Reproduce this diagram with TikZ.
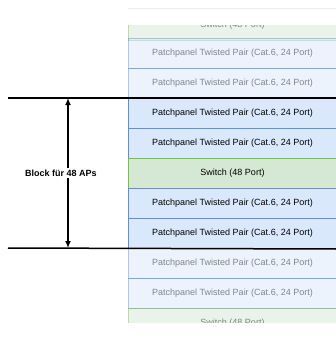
\documentclass[tikz,border=0pt]{standalone}
\usepackage{fontspec}
\setmainfont{Liberation Sans}
\usetikzlibrary{arrows.meta}

\definecolor{pnfill}{HTML}{DAE8FC}
\definecolor{pnline}{HTML}{6C8EBF}
\definecolor{swfill}{HTML}{D5E8D4}
\definecolor{swline}{HTML}{82B366}

\tikzset{
  rowbox/.style={draw, line width=1pt, minimum width=208pt, minimum height=30pt,
    inner sep=0pt, anchor=north west, font=\fontsize{9}{11}\selectfont},
  pnbox/.style={rowbox, fill=pnfill, draw=pnline},
  swbox/.style={rowbox, fill=swfill, draw=swline},
  faded/.style={fill opacity=0.5, draw opacity=0.5, text opacity=0.45},
}

\begin{document}
\begin{tikzpicture}[x=1pt, y=-1pt]
      \fill[white] (0,0) rectangle (336,338);
      \useasboundingbox (0,0) rectangle (336,338);

      % faded rows above and below the block
      \begin{scope}
        \clip (127,25) rectangle (340,322.5);
        \node[swbox, faded] (sw0) at (128,10) {Switch (48 Port)};
        \node[pnbox, faded] (pn1) at (128,38) {Patchpanel Twisted Pair (Cat.6, 24 Port)};
        \node[pnbox, faded] (pn2) at (128,68) {Patchpanel Twisted Pair (Cat.6, 24 Port)};
        \node[pnbox, faded] (pn8) at (128,248) {Patchpanel Twisted Pair (Cat.6, 24 Port)};
        \node[pnbox, faded] (pn9) at (128,278) {Patchpanel Twisted Pair (Cat.6, 24 Port)};
        \node[swbox, faded] (sw10) at (128,308) {Switch (48 Port)};
      \end{scope}
      \draw[black!7, line width=1pt] (128,8) -- (336,8);

      % the block
      \node[pnbox] (pn3) at (128,98) {Patchpanel Twisted Pair (Cat.6, 24 Port)};
      \node[pnbox] (pn4) at (128,128) {Patchpanel Twisted Pair (Cat.6, 24 Port)};
      \node[swbox] (sw5) at (128,158) {Switch (48 Port)};
      \node[pnbox] (pn6) at (128,188) {Patchpanel Twisted Pair (Cat.6, 24 Port)};
      \node[pnbox] (pn7) at (128,218) {Patchpanel Twisted Pair (Cat.6, 24 Port)};

      % block limits
      \coordinate (topL) at (8,98);
      \coordinate (botL) at (8,248);
      \draw[line width=1.5pt] (topL) -- (pn3.north east);
      \draw[line width=1.5pt] (botL) -- (pn7.south east);

      \coordinate (topA) at (68,98);
      \coordinate (botA) at (68,248);
      \draw[line width=1.3pt, {Latex[length=7pt, width=6pt]}-{Latex[length=7pt, width=6pt]}] (topA)--(botA);
      \node[fill=white, inner sep=2pt, font=\fontsize{9}{11}\selectfont\bfseries] (lbl) at (61,173) {Block für 48 APs};
\end{tikzpicture}
\end{document}
